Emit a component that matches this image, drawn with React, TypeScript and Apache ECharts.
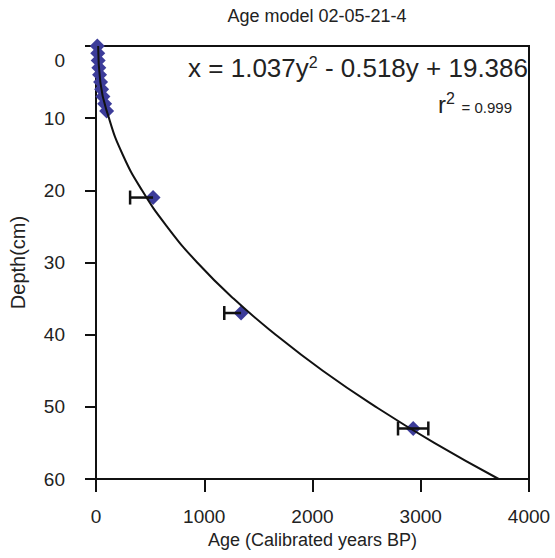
import React, { useEffect, useRef } from "react";
import * as echarts from "echarts";

// Dated samples: depth (cm) and calibrated age (years BP)
const sampleDepths = [0, 1, 2, 3, 4, 5, 6, 7, 8, 9, 21, 37, 53];
const sampleAges = [12, 16, 20, 26, 33, 42, 52, 64, 80, 98, 527, 1340, 2930];

// Error bars: depth, low age, high age
const errDepths = [21, 37, 53];
const errLow = [315, 1185, 2790];
const errHigh = [527, 1340, 3070];

// Fitted curve: depth (cm) and age
const curveDepths = [0, 5, 10, 15, 20, 25, 30, 35, 40, 45, 50, 55, 60];
const curveAges = [20, 40, 120, 245, 425, 655, 935, 1270, 1660, 2095, 2585, 3125, 3720];

const xTicks = [0, 1000, 2000, 3000, 4000];
const yTicks = [0, 10, 20, 30, 40, 50, 60];

const FONT = "'Liberation Sans', Arial, sans-serif";
const INK = "#222";

export default function App() {
  const ref = useRef<HTMLDivElement>(null);
  useEffect(() => {
    if (!ref.current) return;
    const chart = echarts.init(ref.current, undefined, { renderer: "svg" });
    const points = sampleDepths.map((d, i) => [sampleAges[i], d]);
    const curve = curveDepths.map((d, i) => [curveAges[i], d]);
    const errs = errDepths.map((d, i) => [errLow[i], errHigh[i], d]);
    chart.setOption({
      animation: false,
      backgroundColor: "#ffffff",
      textStyle: { fontFamily: FONT },
      title: {
        text: "Age model 02-05-21-4",
        left: 312,
        textAlign: "center",
        top: 2,
        textStyle: { fontFamily: FONT, fontSize: 18, fontWeight: "normal", color: INK },
      },
      grid: {
        left: 96,
        right: 26,
        top: 46,
        bottom: 79,
        show: true,
        borderColor: "#111",
        borderWidth: 2,
        backgroundColor: "transparent",
      },
      xAxis: {
        type: "value",
        min: xTicks[0],
        max: xTicks[xTicks.length - 1],
        interval: 1000,
        name: "Age (Calibrated years BP)",
        nameLocation: "middle",
        nameGap: 51,
        nameTextStyle: { fontFamily: FONT, fontSize: 18, color: INK },
        axisLine: { show: true, onZero: false, lineStyle: { color: "#111", width: 2 } },
        axisTick: { show: true, length: 13, inside: false, lineStyle: { color: "#111", width: 2 } },
        axisLabel: {
          fontFamily: FONT,
          fontSize: 19,
          color: INK,
          margin: 28,
          formatter: (v: number) => String(v),
        },
        splitLine: { show: false },
      },
      yAxis: {
        type: "value",
        inverse: true,
        min: yTicks[0],
        max: yTicks[yTicks.length - 1],
        interval: 10,
        name: "Depth(cm)",
        nameLocation: "middle",
        nameGap: 68,
        nameRotate: 90,
        nameTextStyle: { fontFamily: FONT, fontSize: 20, color: INK },
        axisLine: { show: true, onZero: false, lineStyle: { color: "#111", width: 2 } },
        axisTick: { show: true, length: 11, inside: false, lineStyle: { color: "#111", width: 2 } },
        axisLabel: {
          fontFamily: FONT,
          fontSize: 19,
          color: INK,
          margin: 31,
          formatter: (v: number) => (v === 0 ? "{z|0}" : String(v)),
          rich: { z: { fontFamily: FONT, fontSize: 19, color: INK, padding: [28, 0, 0, 0] } },
        },
        splitLine: { show: false },
      },
      series: [
        {
          type: "scatter",
          data: points,
          symbol: "diamond",
          symbolSize: 15,
          itemStyle: { color: "#3c3c9a", opacity: 1 },
          z: 2,
        },
        {
          type: "custom",
          data: errs,
          z: 3,
          renderItem: (params: any, api: any) => {
            const lo = api.coord([api.value(0), api.value(2)]);
            const hi = api.coord([api.value(1), api.value(2)]);
            const h = 7;
            const st = { stroke: "#111", lineWidth: 2.5 };
            const children: any[] = [
              { type: "line", shape: { x1: lo[0], y1: lo[1], x2: hi[0], y2: hi[1] }, style: st },
              { type: "line", shape: { x1: lo[0], y1: lo[1] - h, x2: lo[0], y2: lo[1] + h }, style: st },
            ];
            if (params.dataIndex === 2) {
              children.push({ type: "line", shape: { x1: hi[0], y1: hi[1] - h, x2: hi[0], y2: hi[1] + h }, style: st });
            }
            return { type: "group", children };
          },
        },
        {
          type: "line",
          data: curve,
          smooth: true,
          showSymbol: false,
          symbol: "none",
          lineStyle: { color: "#111", width: 2 },
          z: 4,
        },
      ],
      graphic: [
        {
          type: "text",
          right: 27,
          top: 54,
          style: {
            text: "x = 1.037y{s|2} - 0.518y + 19.386",
            font: `26px ${FONT}`,
            fill: INK,
            rich: {
              s: { fontSize: 16, fontFamily: FONT, fill: INK, padding: [0, 0, 12, 0] },
            },
          },
          z: 10,
        },
        {
          type: "text",
          right: 43,
          top: 90,
          style: {
            text: "r{s|2} {m|= 0.999}",
            font: `24px ${FONT}`,
            fill: INK,
            rich: {
              s: { fontSize: 16, fontFamily: FONT, fill: INK, padding: [0, 0, 12, 0] },
              m: { fontSize: 15, fontFamily: FONT, fill: INK, padding: [6, 0, 0, 0] },
            },
          },
          z: 10,
        },
      ],
    });
    return () => chart.dispose();
  }, []);
  return <div ref={ref} style={{ width: 555, height: 558, position: "absolute", left: 0, top: 0 }} />;
}
